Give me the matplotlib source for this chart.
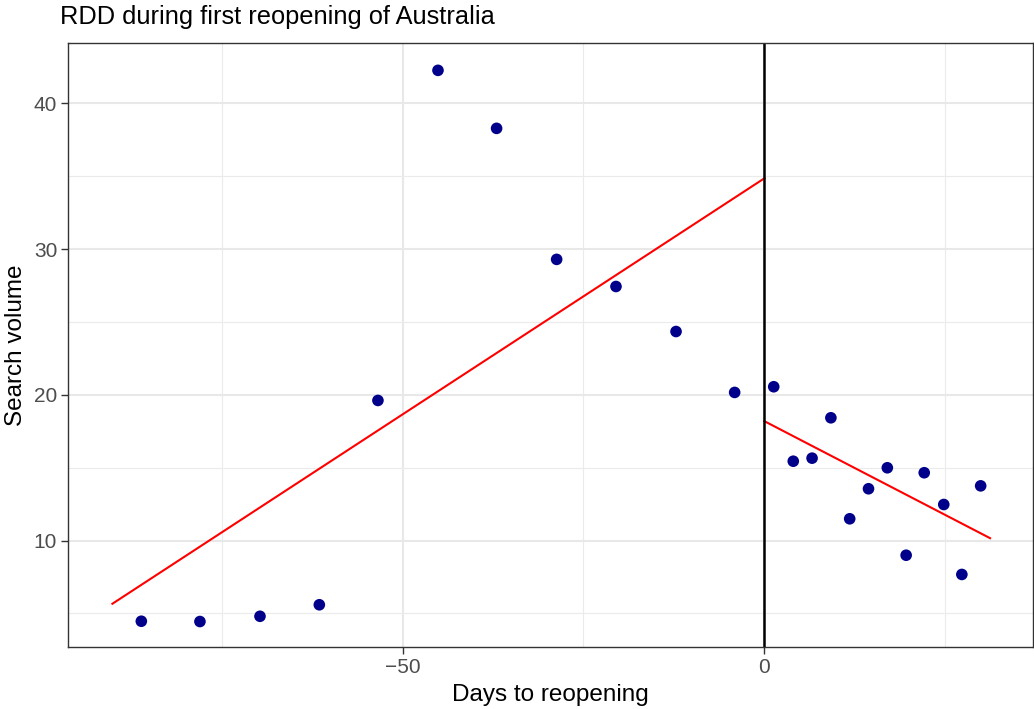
import numpy as np
import matplotlib
matplotlib.use('Agg')
import matplotlib.pyplot as plt
from matplotlib.ticker import MultipleLocator

plt.rcParams['font.family'] = ['Liberation Sans', 'DejaVu Sans']

# binned search volume, days relative to reopening
days = [-86.1, -78.0, -69.7, -61.5, -53.4, -45.1, -37.0, -28.7, -20.5, -12.2, -4.1,
        1.3, 4.0, 6.6, 9.2, 11.8, 14.4, 17.0, 19.6, 22.1, 24.8, 27.3, 29.9]
volume = [4.46, 4.44, 4.80, 5.59, 19.61, 42.26, 38.28, 29.29, 27.43, 24.34, 20.16,
          20.55, 15.44, 15.65, 18.42, 11.49, 13.55, 14.99, 8.99, 14.65, 12.47, 7.67, 13.75]

# fitted lines either side of the cutoff
fit_pre_x = [-90.1, 0.0]
fit_pre_y = [5.66, 34.85]
fit_post_x = [0.0, 31.2]
fit_post_y = [18.19, 10.16]

fig = plt.figure(figsize=(10.34, 7.09), dpi=100)
ax = fig.add_axes([0.066, 0.0874, 0.9328, 0.8516])

ax.scatter(days, volume, s=70, color='#00008B', edgecolors='none', zorder=3)
ax.plot(fit_pre_x, fit_pre_y, color='red', lw=1.5, zorder=2)
ax.plot(fit_post_x, fit_post_y, color='red', lw=1.5, zorder=2)
ax.axvline(0, color='black', lw=1.8, zorder=2)

ax.set_xlim(-96.2, 37.1)
ax.set_ylim(2.69, 44.12)
ax.xaxis.set_major_locator(MultipleLocator(50))
ax.xaxis.set_minor_locator(MultipleLocator(25))
ax.yaxis.set_major_locator(MultipleLocator(10))
ax.yaxis.set_minor_locator(MultipleLocator(5))
ax.set_xticks([-50, 0])
ax.set_xticklabels(['\u221250', '0'])

ax.grid(which='major', color='#E8E8E8', lw=1.5, zorder=0)
ax.grid(which='minor', color='#EBEBEB', lw=0.8, zorder=0)
ax.set_axisbelow(True)
ax.tick_params(which='major', length=5, width=1.0, color='#333333',
               labelsize=15, labelcolor='#4D4D4D', pad=3)
ax.tick_params(which='minor', length=0)
for s in ax.spines.values():
    s.set_color('#333333')
    s.set_linewidth(1.0)

ax.set_xlabel('Days to reopening', fontsize=17.5, labelpad=5)
ax.set_ylabel('Search volume', fontsize=17.5, labelpad=5)
fig.text(0.058, 0.966, 'RDD during first reopening of Australia', fontsize=18.3,
         ha='left', va='baseline')

plt.savefig('out.png', dpi=100)
plt.close()
